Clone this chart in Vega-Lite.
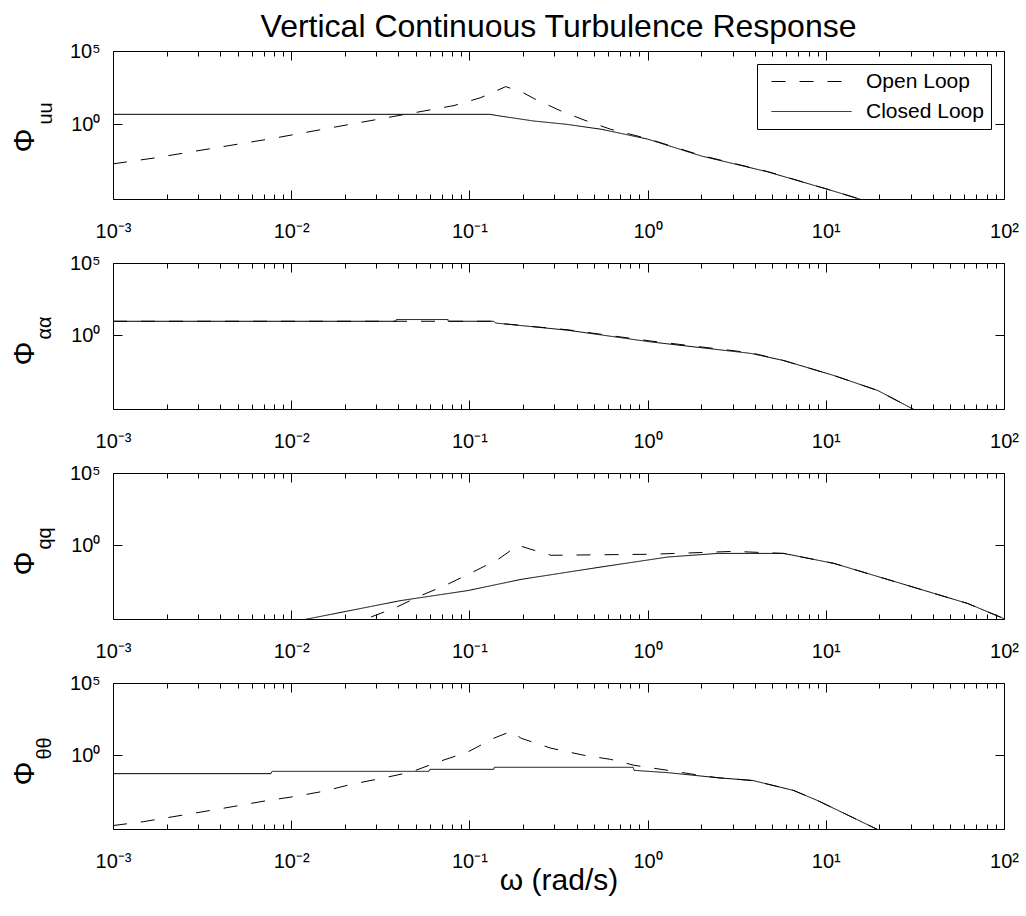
{
  "$schema": "https://vega.github.io/schema/vega-lite/v6.json",
  "autosize": {"type": "pad"},
  "padding": {"left": 8, "top": 10, "right": 5, "bottom": 5},
  "background": "white",
  "title": {"text": "Vertical Continuous Turbulence Response", "frame": "group", "anchor": "middle", "font": "Liberation Sans", "fontSize": 32, "fontWeight": "normal", "color": "black", "offset": -3},
  "data": {"values": [
    {"p":"uu","s":"Open Loop","w":0.001,"v":0.002},
    {"p":"uu","s":"Open Loop","w":0.0017,"v":0.005},
    {"p":"uu","s":"Open Loop","w":0.0037,"v":0.024},
    {"p":"uu","s":"Open Loop","w":0.008,"v":0.112},
    {"p":"uu","s":"Open Loop","w":0.0174,"v":0.63},
    {"p":"uu","s":"Open Loop","w":0.0378,"v":3.47},
    {"p":"uu","s":"Open Loop","w":0.082,"v":19},
    {"p":"uu","s":"Open Loop","w":0.116,"v":66},
    {"p":"uu","s":"Open Loop","w":0.16,"v":372},
    {"p":"uu","s":"Open Loop","w":0.2,"v":145},
    {"p":"uu","s":"Open Loop","w":0.23,"v":57.5},
    {"p":"uu","s":"Open Loop","w":0.33,"v":7.6},
    {"p":"uu","s":"Open Loop","w":0.46,"v":1.6},
    {"p":"uu","s":"Open Loop","w":0.62,"v":0.46},
    {"p":"uu","s":"Open Loop","w":1.0,"v":0.105},
    {"p":"uu","s":"Open Loop","w":2.0,"v":0.0075},
    {"p":"uu","s":"Open Loop","w":4.7,"v":0.0006},
    {"p":"uu","s":"Open Loop","w":10,"v":0.00004},
    {"p":"uu","s":"Open Loop","w":15.2,"v":0.0000085},
    {"p":"uu","s":"Open Loop","w":30,"v":0.0000008},
    {"p":"uu","s":"Closed Loop","w":0.001,"v":4.79},
    {"p":"uu","s":"Closed Loop","w":0.13,"v":4.79},
    {"p":"uu","s":"Closed Loop","w":0.15,"v":3.6},
    {"p":"uu","s":"Closed Loop","w":0.23,"v":1.67},
    {"p":"uu","s":"Closed Loop","w":0.35,"v":1.0},
    {"p":"uu","s":"Closed Loop","w":0.55,"v":0.457},
    {"p":"uu","s":"Closed Loop","w":1.0,"v":0.0977},
    {"p":"uu","s":"Closed Loop","w":2.0,"v":0.0069},
    {"p":"uu","s":"Closed Loop","w":4.7,"v":0.000575},
    {"p":"uu","s":"Closed Loop","w":10,"v":0.00004},
    {"p":"uu","s":"Closed Loop","w":15.2,"v":0.0000085},
    {"p":"uu","s":"Closed Loop","w":30,"v":0.0000008},
    {"p":"aa","s":"Open Loop","w":0.001,"v":9.33},
    {"p":"aa","s":"Open Loop","w":0.137,"v":9.33},
    {"p":"aa","s":"Open Loop","w":0.14,"v":7.08},
    {"p":"aa","s":"Open Loop","w":0.357,"v":2.4},
    {"p":"aa","s":"Open Loop","w":1.045,"v":0.4},
    {"p":"aa","s":"Open Loop","w":3.8,"v":0.062},
    {"p":"aa","s":"Open Loop","w":5.8,"v":0.018},
    {"p":"aa","s":"Open Loop","w":11.1,"v":0.00166},
    {"p":"aa","s":"Open Loop","w":19.6,"v":0.000151},
    {"p":"aa","s":"Open Loop","w":31.3,"v":0.0000072},
    {"p":"aa","s":"Open Loop","w":60,"v":0.0000002},
    {"p":"aa","s":"Closed Loop","w":0.001,"v":9.33},
    {"p":"aa","s":"Closed Loop","w":0.0387,"v":9.33},
    {"p":"aa","s":"Closed Loop","w":0.039,"v":12.3},
    {"p":"aa","s":"Closed Loop","w":0.0759,"v":12.3},
    {"p":"aa","s":"Closed Loop","w":0.076,"v":9.33},
    {"p":"aa","s":"Closed Loop","w":0.137,"v":9.33},
    {"p":"aa","s":"Closed Loop","w":0.14,"v":7.08},
    {"p":"aa","s":"Closed Loop","w":0.357,"v":2.24},
    {"p":"aa","s":"Closed Loop","w":1.045,"v":0.347},
    {"p":"aa","s":"Closed Loop","w":3.8,"v":0.056},
    {"p":"aa","s":"Closed Loop","w":5.8,"v":0.018},
    {"p":"aa","s":"Closed Loop","w":11.1,"v":0.00166},
    {"p":"aa","s":"Closed Loop","w":19.6,"v":0.000151},
    {"p":"aa","s":"Closed Loop","w":31.3,"v":0.0000072},
    {"p":"aa","s":"Closed Loop","w":60,"v":0.0000002},
    {"p":"qq","s":"Open Loop","w":0.02,"v":0.0000023},
    {"p":"qq","s":"Open Loop","w":0.0256,"v":0.0000072},
    {"p":"qq","s":"Open Loop","w":0.0387,"v":0.00005},
    {"p":"qq","s":"Open Loop","w":0.052,"v":0.00029},
    {"p":"qq","s":"Open Loop","w":0.073,"v":0.00166},
    {"p":"qq","s":"Open Loop","w":0.1035,"v":0.0132},
    {"p":"qq","s":"Open Loop","w":0.145,"v":0.107},
    {"p":"qq","s":"Open Loop","w":0.1875,"v":1.0},
    {"p":"qq","s":"Open Loop","w":0.222,"v":0.525},
    {"p":"qq","s":"Open Loop","w":0.287,"v":0.204},
    {"p":"qq","s":"Open Loop","w":1.045,"v":0.24},
    {"p":"qq","s":"Open Loop","w":3.05,"v":0.38},
    {"p":"qq","s":"Open Loop","w":5.8,"v":0.275},
    {"p":"qq","s":"Open Loop","w":11.1,"v":0.056},
    {"p":"qq","s":"Open Loop","w":26.4,"v":0.0023},
    {"p":"qq","s":"Open Loop","w":62.8,"v":0.000093},
    {"p":"qq","s":"Open Loop","w":100,"v":0.0000085},
    {"p":"qq","s":"Closed Loop","w":0.009,"v":0.000004},
    {"p":"qq","s":"Closed Loop","w":0.0118,"v":0.0000072},
    {"p":"qq","s":"Closed Loop","w":0.0413,"v":0.000151},
    {"p":"qq","s":"Closed Loop","w":0.098,"v":0.00074},
    {"p":"qq","s":"Closed Loop","w":0.195,"v":0.0044},
    {"p":"qq","s":"Closed Loop","w":0.548,"v":0.0316},
    {"p":"qq","s":"Closed Loop","w":1.3,"v":0.155},
    {"p":"qq","s":"Closed Loop","w":2.48,"v":0.275},
    {"p":"qq","s":"Closed Loop","w":5.8,"v":0.275},
    {"p":"qq","s":"Closed Loop","w":11.1,"v":0.056},
    {"p":"qq","s":"Closed Loop","w":26.4,"v":0.0023},
    {"p":"qq","s":"Closed Loop","w":62.8,"v":0.000093},
    {"p":"qq","s":"Closed Loop","w":100,"v":0.0000085},
    {"p":"tt","s":"Open Loop","w":0.001,"v":0.0000138},
    {"p":"tt","s":"Open Loop","w":0.00149,"v":0.000026},
    {"p":"tt","s":"Open Loop","w":0.0022,"v":0.000058},
    {"p":"tt","s":"Open Loop","w":0.00324,"v":0.000129},
    {"p":"tt","s":"Open Loop","w":0.00477,"v":0.00029},
    {"p":"tt","s":"Open Loop","w":0.00704,"v":0.00068},
    {"p":"tt","s":"Open Loop","w":0.0104,"v":0.0014},
    {"p":"tt","s":"Open Loop","w":0.0153,"v":0.0033},
    {"p":"tt","s":"Open Loop","w":0.0217,"v":0.0098},
    {"p":"tt","s":"Open Loop","w":0.0319,"v":0.025},
    {"p":"tt","s":"Open Loop","w":0.047,"v":0.069},
    {"p":"tt","s":"Open Loop","w":0.0667,"v":0.347},
    {"p":"tt","s":"Open Loop","w":0.098,"v":1.7},
    {"p":"tt","s":"Open Loop","w":0.137,"v":15.1},
    {"p":"tt","s":"Open Loop","w":0.171,"v":44.7},
    {"p":"tt","s":"Open Loop","w":0.195,"v":15.1},
    {"p":"tt","s":"Open Loop","w":0.287,"v":3.09},
    {"p":"tt","s":"Open Loop","w":0.44,"v":1.0},
    {"p":"tt","s":"Open Loop","w":0.62,"v":0.525},
    {"p":"tt","s":"Open Loop","w":0.84,"v":0.204},
    {"p":"tt","s":"Open Loop","w":1.3,"v":0.091},
    {"p":"tt","s":"Open Loop","w":2.0,"v":0.04},
    {"p":"tt","s":"Open Loop","w":2.48,"v":0.028},
    {"p":"tt","s":"Open Loop","w":3.9,"v":0.018},
    {"p":"tt","s":"Open Loop","w":6.6,"v":0.0037},
    {"p":"tt","s":"Open Loop","w":9.0,"v":0.00074},
    {"p":"tt","s":"Open Loop","w":19.6,"v":0.0000072},
    {"p":"tt","s":"Open Loop","w":40,"v":0.0000001},
    {"p":"tt","s":"Closed Loop","w":0.001,"v":0.0537},
    {"p":"tt","s":"Closed Loop","w":0.0077,"v":0.0537},
    {"p":"tt","s":"Closed Loop","w":0.0078,"v":0.0776},
    {"p":"tt","s":"Closed Loop","w":0.0593,"v":0.0776},
    {"p":"tt","s":"Closed Loop","w":0.06,"v":0.107},
    {"p":"tt","s":"Closed Loop","w":0.137,"v":0.107},
    {"p":"tt","s":"Closed Loop","w":0.138,"v":0.148},
    {"p":"tt","s":"Closed Loop","w":0.83,"v":0.148},
    {"p":"tt","s":"Closed Loop","w":0.84,"v":0.091},
    {"p":"tt","s":"Closed Loop","w":1.3,"v":0.063},
    {"p":"tt","s":"Closed Loop","w":2.48,"v":0.028},
    {"p":"tt","s":"Closed Loop","w":3.9,"v":0.018},
    {"p":"tt","s":"Closed Loop","w":6.6,"v":0.0037},
    {"p":"tt","s":"Closed Loop","w":9.0,"v":0.00074},
    {"p":"tt","s":"Closed Loop","w":19.6,"v":0.0000072},
    {"p":"tt","s":"Closed Loop","w":40,"v":0.0000001}
  ]},
  "spacing": 64,
  "bounds": "flush",
  "resolve": {"scale": {"strokeDash": "independent"}},
  "vconcat": [
    {
      "width": 891, "height": 148,
      "transform": [{"filter": "datum.p === 'uu'"}],
      "layer": [
        {"mark": {"type": "line", "color": "black", "strokeWidth": 1, "clip": true},
         "encoding": {
           "x": {"field": "w", "type": "quantitative", "scale": {"type": "log", "domain": [0.001, 100], "nice": false},
                 "axis": {"orient": "bottom", "values": [0.001, 0.01, 0.1, 1, 10, 100], "labelExpr": "datum.value < 0.005 ? '10⁻³' : datum.value < 0.05 ? '10⁻²' : datum.value < 0.5 ? '10⁻¹' : datum.value < 5 ? '10⁰' : datum.value < 50 ? '10¹' : '10²'", "tickSize": -9, "labelPadding": 31, "labelFontSize": 20, "title": null}},
           "y": {"field": "v", "type": "quantitative", "scale": {"type": "log", "domain": [0.000008, 100000], "nice": false},
                 "axis": {"orient": "left", "values": [1, 100000], "labelExpr": "datum.value < 10 ? '10⁰' : '10⁵'", "tickSize": -9, "labelPadding": 22, "labelFontSize": 20, "title": "Φ", "titleFontSize": 30, "titleAngle": 270, "titleAlign": "center", "titleBaseline": "middle", "titleX": -89, "titleY": 89}},
           "strokeDash": {"field": "s", "type": "nominal", "scale": {"domain": ["Open Loop", "Closed Loop"], "range": [[14, 14], [1, 0]]},
                 "legend": {"title": null, "orient": "top-right", "offset": 13}}
         }},
        {"mark": {"type": "line", "opacity": 0, "clip": true},
         "encoding": {
           "x": {"field": "w", "type": "quantitative", "axis": {"orient": "top", "values": [0.001, 0.01, 0.1, 1, 10, 100], "labels": false, "tickSize": -9, "title": null}},
           "y": {"field": "v", "type": "quantitative", "axis": {"orient": "right", "values": [1, 100000], "labels": false, "tickSize": -9, "title": null}},
           "detail": {"field": "s"}
         }},
        {"mark": {"type": "line", "opacity": 0, "clip": true},
         "encoding": {
           "x": {"field": "w", "type": "quantitative", "axis": {"orient": "bottom", "values": [0.002,0.003,0.004,0.005,0.006,0.007,0.008,0.009,0.02,0.03,0.04,0.05,0.06,0.07,0.08,0.09,0.2,0.3,0.4,0.5,0.6,0.7,0.8,0.9,2,3,4,5,6,7,8,9,20,30,40,50,60,70,80,90], "labels": false, "tickSize": -5, "title": null}},
           "y": {"field": "v", "type": "quantitative", "axis": {"orient": "left", "values": [], "labels": false, "ticks": false, "title": "uu", "titleFontSize": 20, "titleAngle": 270, "titleAlign": "left", "titleBaseline": "middle", "titleX": -68, "titleY": 73}},
           "detail": {"field": "s"}
         }},
        {"mark": {"type": "line", "opacity": 0, "clip": true},
         "encoding": {
           "x": {"field": "w", "type": "quantitative", "axis": {"orient": "top", "values": [0.002,0.003,0.004,0.005,0.006,0.007,0.008,0.009,0.02,0.03,0.04,0.05,0.06,0.07,0.08,0.09,0.2,0.3,0.4,0.5,0.6,0.7,0.8,0.9,2,3,4,5,6,7,8,9,20,30,40,50,60,70,80,90], "labels": false, "tickSize": -5, "title": null}},
           "y": {"field": "v", "type": "quantitative", "axis": null},
           "detail": {"field": "s"}
         }}
      ],
      "resolve": {"axis": {"x": "independent", "y": "independent"}}
    },
    {
      "width": 891, "height": 146,
      "transform": [{"filter": "datum.p === 'aa'"}],
      "layer": [
        {"mark": {"type": "line", "color": "black", "strokeWidth": 1, "clip": true},
         "encoding": {
           "x": {"field": "w", "type": "quantitative", "scale": {"type": "log", "domain": [0.001, 100], "nice": false},
                 "axis": {"orient": "bottom", "values": [0.001, 0.01, 0.1, 1, 10, 100], "labelExpr": "datum.value < 0.005 ? '10⁻³' : datum.value < 0.05 ? '10⁻²' : datum.value < 0.5 ? '10⁻¹' : datum.value < 5 ? '10⁰' : datum.value < 50 ? '10¹' : '10²'", "tickSize": -9, "labelPadding": 31, "labelFontSize": 20, "title": null}},
           "y": {"field": "v", "type": "quantitative", "scale": {"type": "log", "domain": [0.000008, 100000], "nice": false},
                 "axis": {"orient": "left", "values": [1, 100000], "labelExpr": "datum.value < 10 ? '10⁰' : '10⁵'", "tickSize": -9, "labelPadding": 22, "labelFontSize": 20, "title": "Φ", "titleFontSize": 30, "titleAngle": 270, "titleAlign": "center", "titleBaseline": "middle", "titleX": -89, "titleY": 90}},
           "strokeDash": {"field": "s", "type": "nominal", "scale": {"domain": ["Open Loop", "Closed Loop"], "range": [[14, 14], [1, 0]]}, "legend": null}
         }},
        {"mark": {"type": "line", "opacity": 0, "clip": true},
         "encoding": {
           "x": {"field": "w", "type": "quantitative", "axis": {"orient": "top", "values": [0.001, 0.01, 0.1, 1, 10, 100], "labels": false, "tickSize": -9, "title": null}},
           "y": {"field": "v", "type": "quantitative", "axis": {"orient": "right", "values": [1, 100000], "labels": false, "tickSize": -9, "title": null}},
           "detail": {"field": "s"}
         }},
        {"mark": {"type": "line", "opacity": 0, "clip": true},
         "encoding": {
           "x": {"field": "w", "type": "quantitative", "axis": {"orient": "bottom", "values": [0.002,0.003,0.004,0.005,0.006,0.007,0.008,0.009,0.02,0.03,0.04,0.05,0.06,0.07,0.08,0.09,0.2,0.3,0.4,0.5,0.6,0.7,0.8,0.9,2,3,4,5,6,7,8,9,20,30,40,50,60,70,80,90], "labels": false, "tickSize": -5, "title": null}},
           "y": {"field": "v", "type": "quantitative", "axis": {"orient": "left", "values": [], "labels": false, "ticks": false, "title": "αα", "titleFontSize": 20, "titleAngle": 270, "titleAlign": "left", "titleBaseline": "middle", "titleX": -69, "titleY": 76}},
           "detail": {"field": "s"}
         }},
        {"mark": {"type": "line", "opacity": 0, "clip": true},
         "encoding": {
           "x": {"field": "w", "type": "quantitative", "axis": {"orient": "top", "values": [0.002,0.003,0.004,0.005,0.006,0.007,0.008,0.009,0.02,0.03,0.04,0.05,0.06,0.07,0.08,0.09,0.2,0.3,0.4,0.5,0.6,0.7,0.8,0.9,2,3,4,5,6,7,8,9,20,30,40,50,60,70,80,90], "labels": false, "tickSize": -5, "title": null}},
           "y": {"field": "v", "type": "quantitative", "axis": null},
           "detail": {"field": "s"}
         }}
      ],
      "resolve": {"axis": {"x": "independent", "y": "independent"}}
    },
    {
      "width": 891, "height": 146,
      "transform": [{"filter": "datum.p === 'qq'"}],
      "layer": [
        {"mark": {"type": "line", "color": "black", "strokeWidth": 1, "clip": true},
         "encoding": {
           "x": {"field": "w", "type": "quantitative", "scale": {"type": "log", "domain": [0.001, 100], "nice": false},
                 "axis": {"orient": "bottom", "values": [0.001, 0.01, 0.1, 1, 10, 100], "labelExpr": "datum.value < 0.005 ? '10⁻³' : datum.value < 0.05 ? '10⁻²' : datum.value < 0.5 ? '10⁻¹' : datum.value < 5 ? '10⁰' : datum.value < 50 ? '10¹' : '10²'", "tickSize": -9, "labelPadding": 31, "labelFontSize": 20, "title": null}},
           "y": {"field": "v", "type": "quantitative", "scale": {"type": "log", "domain": [0.000008, 100000], "nice": false},
                 "axis": {"orient": "left", "values": [1, 100000], "labelExpr": "datum.value < 10 ? '10⁰' : '10⁵'", "tickSize": -9, "labelPadding": 22, "labelFontSize": 20, "title": "Φ", "titleFontSize": 30, "titleAngle": 270, "titleAlign": "center", "titleBaseline": "middle", "titleX": -89, "titleY": 90}},
           "strokeDash": {"field": "s", "type": "nominal", "scale": {"domain": ["Open Loop", "Closed Loop"], "range": [[14, 14], [1, 0]]}, "legend": null}
         }},
        {"mark": {"type": "line", "opacity": 0, "clip": true},
         "encoding": {
           "x": {"field": "w", "type": "quantitative", "axis": {"orient": "top", "values": [0.001, 0.01, 0.1, 1, 10, 100], "labels": false, "tickSize": -9, "title": null}},
           "y": {"field": "v", "type": "quantitative", "axis": {"orient": "right", "values": [1, 100000], "labels": false, "tickSize": -9, "title": null}},
           "detail": {"field": "s"}
         }},
        {"mark": {"type": "line", "opacity": 0, "clip": true},
         "encoding": {
           "x": {"field": "w", "type": "quantitative", "axis": {"orient": "bottom", "values": [0.002,0.003,0.004,0.005,0.006,0.007,0.008,0.009,0.02,0.03,0.04,0.05,0.06,0.07,0.08,0.09,0.2,0.3,0.4,0.5,0.6,0.7,0.8,0.9,2,3,4,5,6,7,8,9,20,30,40,50,60,70,80,90], "labels": false, "tickSize": -5, "title": null}},
           "y": {"field": "v", "type": "quantitative", "axis": {"orient": "left", "values": [], "labels": false, "ticks": false, "title": "qq", "titleFontSize": 20, "titleAngle": 270, "titleAlign": "left", "titleBaseline": "middle", "titleX": -69, "titleY": 76}},
           "detail": {"field": "s"}
         }},
        {"mark": {"type": "line", "opacity": 0, "clip": true},
         "encoding": {
           "x": {"field": "w", "type": "quantitative", "axis": {"orient": "top", "values": [0.002,0.003,0.004,0.005,0.006,0.007,0.008,0.009,0.02,0.03,0.04,0.05,0.06,0.07,0.08,0.09,0.2,0.3,0.4,0.5,0.6,0.7,0.8,0.9,2,3,4,5,6,7,8,9,20,30,40,50,60,70,80,90], "labels": false, "tickSize": -5, "title": null}},
           "y": {"field": "v", "type": "quantitative", "axis": null},
           "detail": {"field": "s"}
         }}
      ],
      "resolve": {"axis": {"x": "independent", "y": "independent"}}
    },
    {
      "width": 891, "height": 146,
      "transform": [{"filter": "datum.p === 'tt'"}],
      "layer": [
        {"mark": {"type": "line", "color": "black", "strokeWidth": 1, "clip": true},
         "encoding": {
           "x": {"field": "w", "type": "quantitative", "scale": {"type": "log", "domain": [0.001, 100], "nice": false},
                 "axis": {"orient": "bottom", "values": [0.001, 0.01, 0.1, 1, 10, 100], "labelExpr": "datum.value < 0.005 ? '10⁻³' : datum.value < 0.05 ? '10⁻²' : datum.value < 0.5 ? '10⁻¹' : datum.value < 5 ? '10⁰' : datum.value < 50 ? '10¹' : '10²'", "tickSize": -9, "labelPadding": 31, "labelFontSize": 20, "title": "ω (rad/s)", "titleFontSize": 30, "titlePadding": -6}},
           "y": {"field": "v", "type": "quantitative", "scale": {"type": "log", "domain": [0.000008, 100000], "nice": false},
                 "axis": {"orient": "left", "values": [1, 100000], "labelExpr": "datum.value < 10 ? '10⁰' : '10⁵'", "tickSize": -9, "labelPadding": 22, "labelFontSize": 20, "title": "Φ", "titleFontSize": 30, "titleAngle": 270, "titleAlign": "center", "titleBaseline": "middle", "titleX": -89, "titleY": 90}},
           "strokeDash": {"field": "s", "type": "nominal", "scale": {"domain": ["Open Loop", "Closed Loop"], "range": [[14, 14], [1, 0]]}, "legend": null}
         }},
        {"mark": {"type": "line", "opacity": 0, "clip": true},
         "encoding": {
           "x": {"field": "w", "type": "quantitative", "axis": {"orient": "top", "values": [0.001, 0.01, 0.1, 1, 10, 100], "labels": false, "tickSize": -9, "title": null}},
           "y": {"field": "v", "type": "quantitative", "axis": {"orient": "right", "values": [1, 100000], "labels": false, "tickSize": -9, "title": null}},
           "detail": {"field": "s"}
         }},
        {"mark": {"type": "line", "opacity": 0, "clip": true},
         "encoding": {
           "x": {"field": "w", "type": "quantitative", "axis": {"orient": "bottom", "values": [0.002,0.003,0.004,0.005,0.006,0.007,0.008,0.009,0.02,0.03,0.04,0.05,0.06,0.07,0.08,0.09,0.2,0.3,0.4,0.5,0.6,0.7,0.8,0.9,2,3,4,5,6,7,8,9,20,30,40,50,60,70,80,90], "labels": false, "tickSize": -5, "title": null}},
           "y": {"field": "v", "type": "quantitative", "axis": {"orient": "left", "values": [], "labels": false, "ticks": false, "title": "θθ", "titleFontSize": 20, "titleAngle": 270, "titleAlign": "left", "titleBaseline": "middle", "titleX": -69, "titleY": 76}},
           "detail": {"field": "s"}
         }},
        {"mark": {"type": "line", "opacity": 0, "clip": true},
         "encoding": {
           "x": {"field": "w", "type": "quantitative", "axis": {"orient": "top", "values": [0.002,0.003,0.004,0.005,0.006,0.007,0.008,0.009,0.02,0.03,0.04,0.05,0.06,0.07,0.08,0.09,0.2,0.3,0.4,0.5,0.6,0.7,0.8,0.9,2,3,4,5,6,7,8,9,20,30,40,50,60,70,80,90], "labels": false, "tickSize": -5, "title": null}},
           "y": {"field": "v", "type": "quantitative", "axis": null},
           "detail": {"field": "s"}
         }}
      ],
      "resolve": {"axis": {"x": "independent", "y": "independent"}}
    }
  ],
  "config": {
    "view": {"stroke": "black", "strokeWidth": 1},
    "axis": {"domain": false, "grid": false, "tickColor": "black", "tickWidth": 1, "labelColor": "black", "titleColor": "black", "labelFont": "Liberation Sans", "titleFont": "Liberation Sans", "titleFontWeight": "normal", "labelFlush": false, "labelOverlap": false, "labelBound": false},
    "legend": {"fillColor": "white", "strokeColor": "black", "padding": 7, "symbolType": "stroke", "symbolSize": 6400, "symbolOffset": 7, "clipHeight": 21, "symbolStrokeWidth": 1, "symbolStrokeColor": "black", "labelFont": "Liberation Sans", "labelFontSize": 21, "labelColor": "black", "labelOffset": 14, "rowPadding": 8, "cornerRadius": 0}
  }
}
